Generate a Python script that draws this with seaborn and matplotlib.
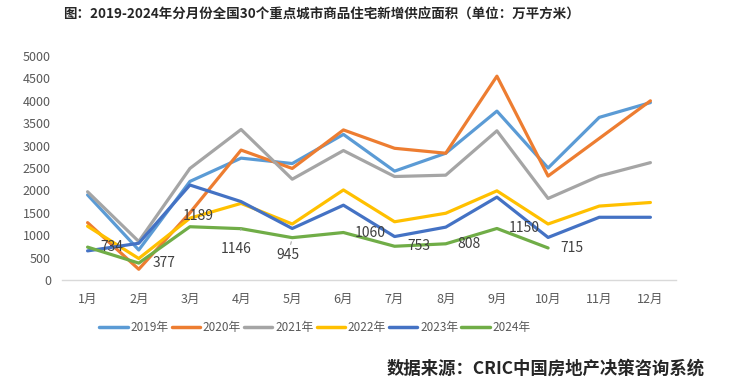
import pandas as pd
import matplotlib
matplotlib.use('Agg')
import matplotlib.pyplot as plt
import seaborn as sns

months = ['1月', '2月', '3月', '4月', '5月', '6月', '7月', '8月', '9月', '10月', '11月', '12月']
years = ['2019年', '2020年', '2021年', '2022年', '2023年', '2024年']

v2019 = [1900, 670, 2200, 2720, 2600, 3250, 2430, 2830, 3770, 2500, 3630, 3960]
v2020 = [1280, 240, 1500, 2900, 2490, 3350, 2940, 2830, 4550, 2320, 3160, 4000]
v2021 = [1970, 860, 2490, 3360, 2250, 2890, 2310, 2340, 3330, 1820, 2320, 2620]
v2022 = [1200, 480, 1380, 1710, 1250, 2010, 1300, 1490, 1990, 1250, 1650, 1730]
v2023 = [650, 820, 2120, 1750, 1150, 1670, 970, 1180, 1850, 950, 1400, 1400]
v2024 = [734, 377, 1189, 1146, 945, 1060, 753, 808, 1150, 715]

colors = ['#5B9BD5', '#ED7D31', '#A5A5A5', '#FFC000', '#4472C4', '#70AD47']

# label offsets in pixels (dx, dy), dy positive = down
label_offsets = [(24, 0), (25, 0), (8, -11), (-5, 20), (-4, 17),
                 (27, 0), (24, 0), (23, 0), (27, 0), (24, 0)]


def build_frame():
    rows = []
    for year, vals in zip(years, [v2019, v2020, v2021, v2022, v2023, v2024]):
        for i, v in enumerate(vals):
            rows.append({'month': i, 'year': year, 'value': v})
    return pd.DataFrame(rows)


def main():
    sns.set_style('white')
    plt.rcParams['font.family'] = ['Noto Sans CJK SC', 'DejaVu Sans']

    df = build_frame()

    fig = plt.figure(figsize=(7.3, 3.9), dpi=100)
    ax = fig.add_axes([62 / 730, 1 - 280 / 390, (676 - 62) / 730, (280 - 56) / 390])

    sns.lineplot(data=df, x='month', y='value', hue='year', palette=colors,
                 linewidth=2.3, sort=False, ax=ax, legend=False)

    ax.set_xlim(-0.5, 11.5)
    ax.set_ylim(0, 5000)
    ax.set_yticks(range(0, 5001, 500))
    ax.set_xticks(range(12))
    ax.set_xticklabels(months)
    ax.tick_params(axis='both', labelsize=9, colors='#595959', length=0)
    ax.tick_params(axis='x', pad=9)
    ax.tick_params(axis='y', pad=8)
    ax.set_xlabel('')
    ax.set_ylabel('')
    for s in ['top', 'right', 'left']:
        ax.spines[s].set_visible(False)
    ax.spines['bottom'].set_color('#D9D9D9')
    ax.spines['bottom'].set_linewidth(1)

    # data labels for 2024
    for i, v in enumerate(v2024):
        dx, dy = label_offsets[i]
        if dy > 12:
            ax.annotate(str(v), xy=(i, v), xytext=(dx * 0.72, -dy * 0.72),
                        textcoords='offset points', ha='center', va='center',
                        fontsize=10, color='#404040',
                        arrowprops=dict(arrowstyle='-', color='#A6A6A6', lw=0.8,
                                        shrinkA=6, shrinkB=3))
        else:
            ax.annotate(str(v), xy=(i, v), xytext=(dx * 0.72, -dy * 0.72),
                        textcoords='offset points', ha='center', va='center',
                        fontsize=10, color='#404040')

    handles = [plt.Line2D([], [], color=c, lw=2.5) for c in colors]
    fig.legend(handles, years, loc='center', bbox_to_anchor=(315 / 730, 1 - 328 / 390),
               ncol=6, frameon=False, fontsize=8.5, handlelength=2.4, handletextpad=0.25,
               columnspacing=0.25, labelcolor='#595959')

    fig.text(321 / 730, 1 - 15 / 390,
             '图：2019-2024年分月份全国30个重点城市商品住宅新增供应面积（单位：万平方米）',
             ha='center', va='center', fontsize=9.7, fontweight='bold')
    fig.text(705 / 730, 1 - 369 / 390, '数据来源：CRIC中国房地产决策咨询系统',
             ha='right', va='center', fontsize=12.5, fontweight='bold')

    fig.savefig('out.png', dpi=100, facecolor='white')


if __name__ == '__main__':
    main()
